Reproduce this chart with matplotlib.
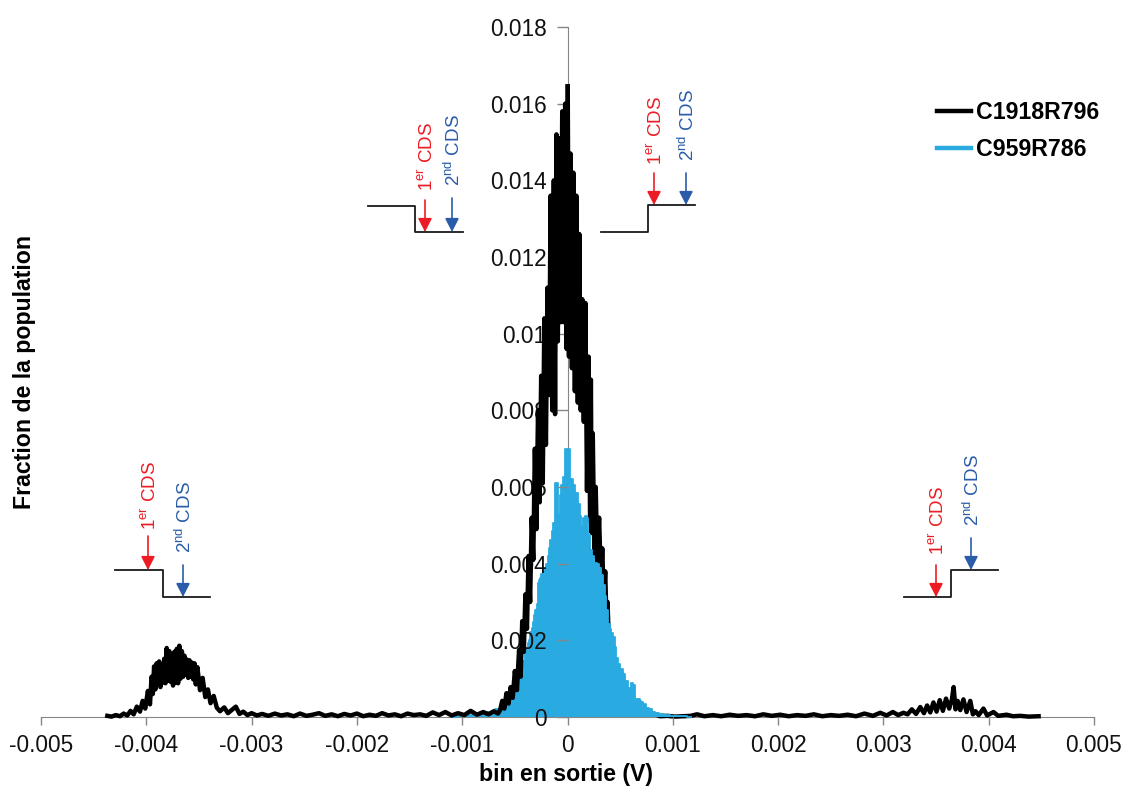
"""Histogramme de sortie : C1918R796 (noir) et C959R786 (bleu), avec schemas CDS."""

import matplotlib
matplotlib.use("Agg")
import matplotlib.pyplot as plt
import numpy as np
from matplotlib.lines import Line2D

plt.rcParams["font.family"] = ["Liberation Sans", "DejaVu Sans"]
plt.rcParams["mathtext.fontset"] = "custom"
plt.rcParams["mathtext.rm"] = "Liberation Sans"

# x en microvolts, y en 1e-3 de fraction
black_left_x = [-4370, -4330, -4290, -4250, -4215, -4180, -4150, -4120, -4090, -4060, -4035, -4010, -3985,
                -3965, -3950, -3938, -3926, -3914, -3902, -3890, -3878, -3866, -3854, -3842, -3830, -3818,
                -3806, -3794, -3782, -3770, -3758, -3746, -3734, -3722, -3710, -3698, -3686, -3674, -3662,
                -3650, -3638, -3626, -3614, -3602, -3590, -3578, -3566, -3554, -3542, -3530, -3515, -3490,
                -3465, -3440, -3415, -3390, -3360, -3330, -3300, -3260, -3225, -3190, -3150, -3115, -3080,
                -3040, -3000, -2950, -2900, -2840, -2780, -2720, -2660, -2600, -2540, -2480, -2420, -2360,
                -2300, -2240, -2180, -2120, -2060, -2000, -1940, -1880, -1820, -1760, -1700, -1640, -1580,
                -1520, -1460, -1400, -1340, -1280, -1220, -1160, -1100, -1040, -980, -920, -860, -800, -750,
                -700, -660]
black_left_y = [0.03, 0.01, 0.05, 0.02, 0.09, 0.04, 0.16, 0.07, 0.27, 0.14, 0.42, 0.22, 0.68,
                0.33, 1.05, 0.60, 1.32, 0.72, 1.40, 0.85, 1.45, 0.78, 1.38, 0.90, 1.52, 0.88,
                1.80, 0.95, 1.72, 0.92, 1.62, 0.82, 1.70, 0.90, 1.78, 0.88, 1.86, 1.00, 1.72,
                1.05, 1.60, 1.10, 1.50, 1.02, 1.48, 1.05, 1.42, 0.98, 1.40, 0.85, 1.30, 0.70,
                1.02, 0.52, 0.72, 0.36, 0.55, 0.24, 0.15, 0.25, 0.10, 0.18, 0.27, 0.08, 0.14,
                0.05, 0.10, 0.04, 0.08, 0.03, 0.09, 0.04, 0.07, 0.02, 0.09, 0.03, 0.06, 0.10,
                0.03, 0.07, 0.02, 0.08, 0.04, 0.09, 0.02, 0.06, 0.03, 0.10, 0.04, 0.07, 0.02,
                0.09, 0.05, 0.07, 0.03, 0.12, 0.05, 0.13, 0.04, 0.10, 0.05, 0.16, 0.06, 0.13, 0.07,
                0.15, 0.09]
black_center_x = [-640, -620, -600, -580, -560, -540, -520, -500, -480, -460, -445, -430, -415, -400, -385,
                  -370, -355, -340, -325, -310, -295, -280, -265, -250, -235, -220, -205, -190, -175, -160,
                  -145, -130, -118, -105, -92, -78, -64, -50, -36, -22, -8, 2, 14, 28, 42, 56, 70, 84, 98,
                  112, 126, 140, 155, 170, 185, 200, 215, 222, 230, 240, 255, 268, 283, 300, 318, 330, 345,
                  358, 372, 380, 395]
black_center_y = [0.18, 0.42, 0.22, 0.62, 0.35, 0.78, 0.50, 1.20, 0.70, 1.75, 1.05, 2.50, 1.70, 3.20, 2.30,
                  4.20, 3.00, 5.20, 4.10, 7.00, 4.90, 8.00, 5.60, 8.90, 6.10, 10.4, 7.10, 11.2, 8.40, 13.6,
                  8.00, 14.0, 7.90, 15.2, 9.80, 15.1, 10.3, 15.8, 10.3, 16.0, 9.60, 16.45, 9.40, 14.7, 9.10,
                  14.2, 8.50, 13.6, 8.20, 12.6, 8.00, 10.9, 7.70, 10.8, 5.90, 9.40, 5.10, 8.80, 4.80, 7.40,
                  4.20, 6.00, 3.90, 5.20, 3.50, 4.40, 3.00, 3.80, 2.30, 3.00, 1.80]
black_right_x = [420, 450, 480, 520, 560, 600, 650, 700, 760, 820, 880, 950, 1020, 1100, 1170, 1230, 1300,
                 1380, 1460, 1540, 1620, 1700, 1780, 1860, 1940, 2020, 2100, 2180, 2260, 2340, 2420, 2500,
                 2580, 2660, 2740, 2820, 2900, 2970, 3030, 3090, 3140, 3190, 3230, 3270, 3310, 3350, 3385,
                 3415, 3445, 3475, 3505, 3535, 3565, 3595, 3625, 3650, 3667, 3685, 3705, 3730, 3760, 3790,
                 3825, 3850, 3875, 3905, 3950, 3985, 4045, 4090, 4170, 4230, 4300, 4380, 4474]
black_right_y = [1.60, 1.30, 0.90, 0.80, 0.35, 0.40, 0.15, 0.20, 0.06, 0.08, 0.02, 0.03, 0.01, 0.02, 0.03, 0.07,
                 0.02, 0.05, 0.02, 0.06, 0.03, 0.05, 0.02, 0.07, 0.03, 0.06, 0.02, 0.05, 0.03, 0.07,
                 0.02, 0.05, 0.03, 0.06, 0.02, 0.09, 0.03, 0.11, 0.04, 0.13, 0.05, 0.11, 0.07, 0.20,
                 0.08, 0.26, 0.10, 0.30, 0.12, 0.38, 0.14, 0.44, 0.16, 0.48, 0.22, 0.45, 0.78, 0.20,
                 0.42, 0.18, 0.46, 0.13, 0.42, 0.07, 0.15, 0.05, 0.22, 0.04, 0.13, 0.03, 0.06, 0.02,
                 0.03, 0.01, 0.02]

blue_x = [-1100, -1000, -900, -800, -720, -650, -620, -590, -560, -540, -520, -505, -493, -478, -462, -445, -430,
          -415, -399, -385, -372, -360, -347, -335, -322, -310, -299, -288, -280, -272, -264, -256, -240, -225,
          -210, -193, -180, -170, -158, -145, -125, -114, -103, -92, -82, -66, -51, -30, -9, 12, 28, 45, 60, 83,
          107, 123, 139, 155, 171, 193, 205, 218, 240, 266, 290, 313, 330, 345, 360, 376, 392, 408, 424, 440, 455,
          471, 490, 512, 534, 558, 582, 598, 614, 630, 645, 662, 680, 695, 709, 732, 756, 788, 820, 850, 883, 945,
          1009, 1050, 1100, 1170]
blue_y = [0.005, 0.02, 0.04, 0.08, 0.13, 0.20, 0.25, 0.31, 0.36, 0.42, 0.53, 0.68, 0.76, 0.92, 1.03, 1.12, 1.20,
          1.46, 1.72, 1.80, 1.92, 2.00, 2.22, 2.33, 2.48, 2.65, 2.78, 2.95, 3.25, 3.50, 3.58, 3.63, 3.72, 3.80,
          3.88, 3.98, 4.20, 4.40, 4.62, 4.85, 5.05, 6.10, 6.10, 6.10, 5.30, 5.80, 6.05, 6.25, 7.00, 7.00, 6.20,
          6.22, 6.05, 5.85, 5.55, 5.25, 4.95, 5.20, 5.25, 5.20, 4.75, 4.35, 4.20, 4.02, 3.98, 3.90, 3.70, 3.45,
          3.15, 2.78, 2.42, 2.30, 2.18, 2.08, 1.82, 1.55, 1.38, 1.25, 1.12, 0.94, 0.76, 0.70, 0.88, 0.84, 0.42,
          0.47, 0.46, 0.42, 0.40, 0.33, 0.24, 0.20, 0.14, 0.10, 0.07, 0.05, 0.03, 0.03, 0.02, 0.005]

x_ticks = [-0.005, -0.004, -0.003, -0.002, -0.001, 0, 0.001, 0.002, 0.003, 0.004, 0.005]
x_labels = ["-0.005", "-0.004", "-0.003", "-0.002", "-0.001", "0", "0.001", "0.002", "0.003", "0.004", "0.005"]
y_ticks = [0, 0.002, 0.004, 0.006, 0.008, 0.01, 0.012, 0.014, 0.016, 0.018]
y_labels = ["0", "0.002", "0.004", "0.006", "0.008", "0.01", "0.012", "0.014", "0.016", "0.018"]

BLACK = "#000000"
BLUE = "#29ABE2"
RED_ARROW = "#ED1C24"
BLUE_ARROW = "#2B5CAA"
GREY = "#868686"
W, H = 1128, 787


def px(x, y):
    # coordonnees pixel de l'image -> fraction de figure
    return x / W, 1 - y / H


def cds_schema(fig, ax, step, red, blue):
    """step: (x0, xm, x1, y_gauche, y_droite); red/blue: (x, y_haut, y_bas, y_texte)."""
    x0, xm, x1, yl, yr = step
    pts = [px(x0, yl), px(xm, yl), px(xm, yr), px(x1, yr)]
    fig.add_artist(Line2D([p[0] for p in pts], [p[1] for p in pts], color="#1a1a1a", lw=1.3,
                          transform=fig.transFigure))
    for (ax_x, top, bottom, ytext), color, txt in (
        (red, RED_ARROW, r"1$^{\mathrm{er}}$ CDS"),
        (blue, BLUE_ARROW, r"2$^{\mathrm{nd}}$ CDS"),
    ):
        ax.annotate("", xy=px(ax_x, bottom), xytext=px(ax_x, top), xycoords="figure fraction",
                    textcoords="figure fraction", annotation_clip=False,
                    arrowprops=dict(arrowstyle="-|>,head_length=0.55,head_width=0.28", color=color, lw=1.2,
                                    mutation_scale=15, shrinkA=0, shrinkB=0))
        tx, ty = px(ax_x + 2, ytext)
        fig.text(tx, ty, txt, color=color, rotation=90, fontsize=13.5, ha="center", va="bottom")


fig = plt.figure(figsize=(W / 100, H / 100), dpi=100, facecolor="white")
ax = fig.add_axes([41 / W, 1 - 717 / H, (1094 - 41) / W, (717 - 27) / H])

black_x = np.array(black_left_x + black_center_x + black_right_x) * 1e-6
black_y = np.array(black_left_y + black_center_y + black_right_y) * 1e-3
blue_xs = np.array(blue_x) * 1e-6
blue_ys = np.array(blue_y) * 1e-3
gauche = black_x <= 2e-6
droite = black_x >= 2e-6

# le noir gauche passe devant les etiquettes, le noir droit passe sous le bleu
ax.plot(black_x[gauche], black_y[gauche], color=BLACK, lw=3.2, solid_joinstyle="round", clip_on=False, zorder=3,
        label="C1918R796")
ax.plot(black_x[droite], black_y[droite], color=BLACK, lw=3.2, solid_joinstyle="round", clip_on=False, zorder=1.3)
ax.fill_between(blue_xs, 0, blue_ys, color=BLUE, lw=0, step="mid", zorder=1.5)
ax.step(blue_xs, blue_ys, where="mid", color=BLUE, lw=1.3, clip_on=False, zorder=1.5, label="C959R786")

ax.set_xlim(-0.005, 0.005)
ax.set_ylim(0, 0.018)
ax.set_xticks(x_ticks, x_labels)
ax.set_yticks(y_ticks, y_labels)
ax.tick_params(axis="x", direction="out", length=6, width=1, color=GREY, labelsize=16.3, pad=6, labelcolor="#111111")
ax.tick_params(axis="y", direction="out", length=8, width=1, color=GREY, labelsize=16.3, pad=7, labelcolor="#111111")
ax.xaxis.set_zorder(2)
ax.yaxis.set_zorder(2)
for name in ("top", "right"):
    ax.spines[name].set_visible(False)
ax.spines["left"].set_position(("data", 0))
ax.spines["left"].set_color(GREY)
ax.spines["left"].set_zorder(1.2)
ax.spines["bottom"].set_color(GREY)
ax.spines["bottom"].set_zorder(1.2)

ax.set_xlabel("bin en sortie (V)", fontsize=16.7, fontweight="bold", va="center")
ax.xaxis.set_label_coords((566 - 41) / 1053, -(775 - 717) / 690)
ax.set_ylabel("Fraction de la population", fontsize=16.7, fontweight="bold", va="center")
ax.yaxis.set_label_coords((25 - 41) / 1053, (717 - 372) / 690)

ax.legend(loc="upper left", bbox_to_anchor=((932 - 41) / 1053, (717 - 96) / 690), frameon=False,
          prop=dict(size=16.7, weight="bold"), handlelength=1.5, handletextpad=0.2, labelspacing=0.62,
          borderpad=0.2, borderaxespad=0.0)
leg = ax.get_legend()
for line in leg.get_lines():
    line.set_linewidth(3.2)

cds_schema(fig, ax, (115, 163, 210, 570, 597), (148, 536, 570, 530), (183, 565, 597, 553))
cds_schema(fig, ax, (368, 415, 463, 206, 232), (425, 200, 232, 191), (452, 198, 232, 186))
cds_schema(fig, ax, (601, 648, 695, 232, 205), (654, 173, 205, 165), (686, 173, 205, 161))
cds_schema(fig, ax, (904, 951, 998, 597, 570), (936, 565, 597, 555), (971, 538, 570, 526))

fig.savefig("out.png", dpi=100, facecolor="white")
plt.close(fig)
